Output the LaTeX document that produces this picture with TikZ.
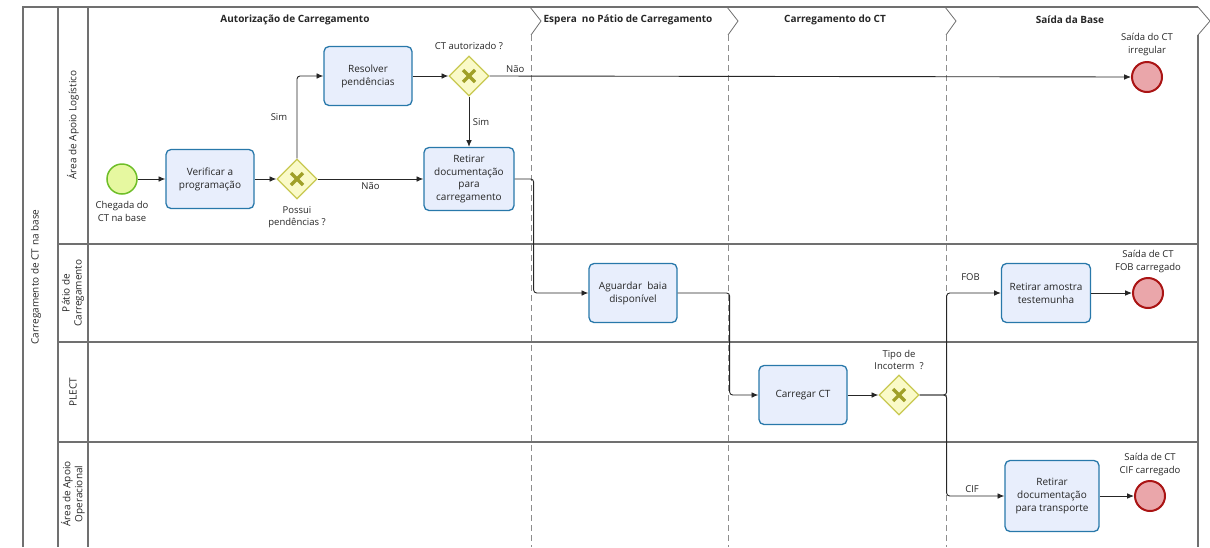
\documentclass[tikz,border=0pt]{standalone}
\usepackage{fontspec}
\setmainfont{Open Sans}
\usetikzlibrary{arrows.meta,shapes.geometric}

\definecolor{lanecol}{RGB}{112,112,112}
\definecolor{taskfill}{RGB}{232,238,252}
\definecolor{taskline}{RGB}{40,120,170}
\definecolor{gwfill}{RGB}{250,250,200}
\definecolor{gwline}{RGB}{200,200,80}
\definecolor{gwcross}{RGB}{160,160,40}
\definecolor{endfill}{RGB}{234,166,170}
\definecolor{endline}{RGB}{170,20,20}
\definecolor{startfill}{RGB}{230,248,160}
\definecolor{startline}{RGB}{110,190,40}

\begin{document}
\begin{tikzpicture}[x=1pt, y=-1pt, every node/.style={font=\fontsize{10}{13}\selectfont, align=center, text=black!85}, >={Latex[length=2.4mm,width=2mm]},
	lane/.style={draw=lanecol, line width=1.2pt},
	phase/.style={draw=lanecol!80, line width=1pt, dash pattern=on 6pt off 4pt},
	task/.style={draw=taskline, fill=taskfill, rounded corners=5pt, line width=1.3pt, minimum width=88pt, minimum height=59pt, inner sep=2pt},
	gateway/.style={diamond, draw=gwline, fill=gwfill, line width=1.3pt, minimum width=40pt, minimum height=40pt, inner sep=0pt,
		path picture={\draw[gwcross, line width=3.2pt] (path picture bounding box.center) ++(-6pt,-6pt) -- ++(12pt,12pt);
			\draw[gwcross, line width=3.2pt] (path picture bounding box.center) ++(-6pt,6pt) -- ++(12pt,-12pt);}},
	startev/.style={circle, draw=startline, fill=startfill, line width=1.5pt, minimum size=30pt, inner sep=0pt},
	endev/.style={circle, draw=endline, fill=endfill, line width=2pt, minimum size=30pt, inner sep=0pt},
	flow/.style={->, draw=black!85, line width=0.9pt, rounded corners=3pt},
	lbl/.style={font=\fontsize{9.5}{12.5}\selectfont},
	head/.style={font=\fontsize{10}{12}\selectfont\bfseries}]
	\useasboundingbox (0,0) rectangle (1210,547);
	% pool and lanes
	\draw[lane] (23,547) -- (23,7) -- (1198,7);
	\draw[lane] (58,7) -- (58,547);
	\draw[lane] (88,7) -- (88,547);
	\draw[lane] (1198,35) -- (1198,547);
	\foreach \y in {244,342,442} {\draw[lane] (58,\y) -- (1198,\y);}
	\node[rotate=90] (pool) at (36,277) {Carregamento de CT na base};
	\node[rotate=90] (lane1) at (73,125) {Área de Apoio Logístico};
	\node[rotate=90, font=\fontsize{10}{12}\selectfont] (lane2) at (73,293) {Pátio de\\Carregamento};
	\node[rotate=90] (lane3) at (73,392) {PLECT};
	\node[rotate=90, font=\fontsize{10}{12}\selectfont] (lane4) at (73,494) {Área de Apoio\\Operacional};
	% phases
	\foreach \x in {530,727,945} {
		\draw[lanecol, line width=0.8pt] (\x,7) -- ({\x+11},21) -- ({\x+1},35);
		\draw[phase] ({\x+1},35) -- ({\x+1},547);
	}
	\draw[lanecol, line width=0.8pt] (1198,7) -- (1210,21) -- (1198,35);
	\node[head] (ph1) at (295,20) {Autorização de Carregamento};
	\node[head] (ph2) at (628,20) {Espera\ \ no Pátio de Carregamento};
	\node[head] (ph3) at (835,20) {Carregamento do CT};
	\node[head] (ph4) at (1070,20) {Saída da Base};

	% elements
	\node[startev, label={[lbl, yshift=-3pt]below:Chegada do\\CT na base}] (start) at (122,179) {};
	\node[task] (verificar) at (210,179) {Verificar a\\programação};
	\node[gateway, label={[lbl, yshift=-3pt]below:Possui\\pendências ?}] (gwpend) at (297,179) {};
	\node[task] (resolver) at (368,76) {Resolver\\pendências};
	\node[gateway, label={[lbl, yshift=2pt]above:CT autorizado ?}] (gwaut) at (469,76) {};
	\node[task, minimum width=90pt, minimum height=63pt, font=\fontsize{10}{12.5}\selectfont] (retdoc) at (469,179) {Retirar\\documentação\\para\\carregamento};
	\node[endev, label={[lbl, yshift=2pt]above:Saída do CT\\irregular}] (fimirreg) at (1147,77) {};
	\node[task] (aguardar) at (633,293) {Aguardar\ \ baia\\disponível};
	\node[task] (carregar) at (803,395) {Carregar CT};
	\node[gateway, label={[lbl, yshift=1pt]above:Tipo de\\Incoterm\ \ ?}] (gwinco) at (899,395) {};
	\node[task, minimum width=89pt] (amostra) at (1046,293) {Retirar amostra\\testemunha};
	\node[endev, label={[lbl, yshift=1pt]above:Saída de CT\\FOB carregado}] (fimfob) at (1148,293) {};
	\node[task, minimum width=94pt, minimum height=71pt] (rettransp) at (1052,496) {Retirar\\documentação\\para transporte};
	\node[endev, label={[lbl, yshift=1pt]above:Saída de CT\\CIF carregado}] (fimcif) at (1150,496) {};

	% sequence flows
	\draw[flow] (start) -- (verificar);
	\draw[flow] (verificar) -- (gwpend);
	\draw[flow] (gwpend.north) |- node[pos=0.25, left=6pt, lbl] {Sim} (resolver.west);
	\draw[flow] (gwpend.east) -- node[below, lbl] {Não} (retdoc.west);
	\draw[flow] (resolver) -- (gwaut);
	\draw[flow] (gwaut.south) -- node[right, lbl] {Sim} (retdoc.north);
	\draw[flow] (gwaut.east) -- node[pos=0.04, above, lbl] {Não} (fimirreg.west);
	\draw[flow] (retdoc.east) -- ++(19,0) |- (aguardar.west);
	\draw[flow] (aguardar.east) -- ++(52,0) |- (carregar.west);
	\draw[flow] (carregar) -- (gwinco);
	\draw[flow] (gwinco.east) -- ++(27,0) |- node[pos=0.72, above=9pt, lbl] {FOB} (amostra.west);
	\draw[flow] (gwinco.east) -- ++(27,0) |- node[pos=0.72, above, lbl] {CIF} (rettransp.west);
	\draw[flow] (amostra) -- (fimfob);
	\draw[flow] (rettransp) -- (fimcif);
\end{tikzpicture}
\end{document}
